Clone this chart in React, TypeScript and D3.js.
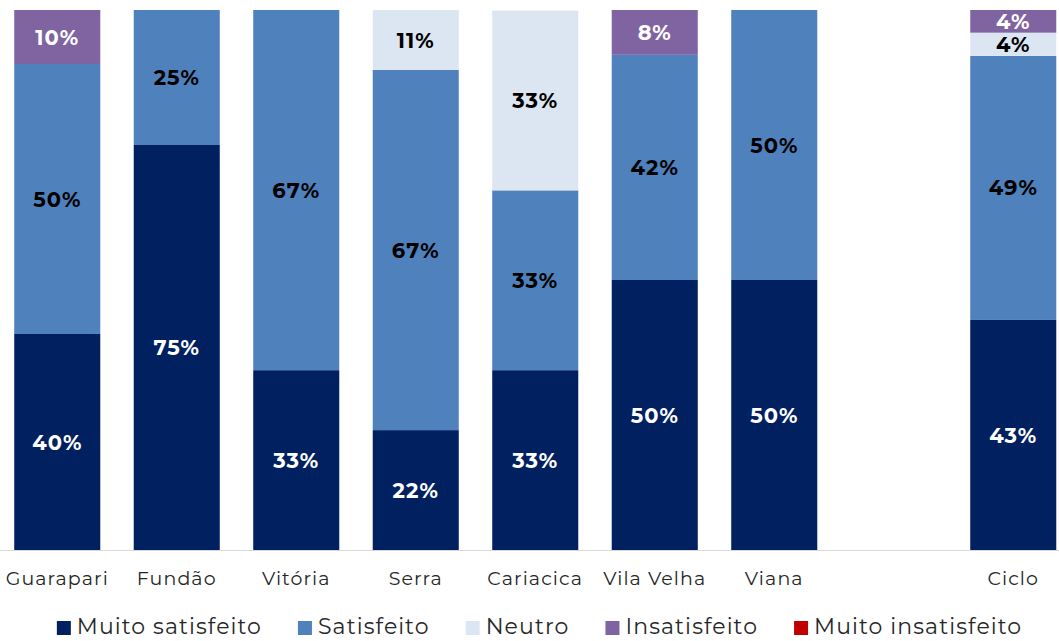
import React, { useEffect, useRef } from "react";
import * as d3 from "d3";

const categories = ["Guarapari", "Fundão", "Vitória", "Serra", "Cariacica", "Vila Velha", "Viana", "", "Ciclo"];
const seriesNames = ["Muito satisfeito", "Satisfeito", "Neutro", "Insatisfeito", "Muito insatisfeito"];
const muitoSatisfeito = [40, 75, 33.3, 22.2, 33.3, 50, 50, 0, 42.6];
const satisfeito = [50, 25, 66.7, 66.7, 33.3, 41.7, 50, 0, 48.9];
const neutro = [0, 0, 0, 11.1, 33.3, 0, 0, 0, 4.3];
const insatisfeito = [10, 0, 0, 0, 0, 8.3, 0, 0, 4.2];
const muitoInsatisfeito = [0, 0, 0, 0, 0, 0, 0, 0, 0];
const colors = ["#002060", "#4F81BD", "#DCE6F2", "#8064A2", "#C00000"];
const labelColors = ["#ffffff", "#000000", "#000000", "#ffffff", "#ffffff"];

const W = 1059;
const H = 641;
const FONT = "Montserrat, 'Open Sans', sans-serif";

export default function App() {
  const ref = useRef<SVGSVGElement>(null);
  useEffect(() => {
    const svg = d3.select(ref.current);
    svg.selectAll("*").remove();
    const series = [muitoSatisfeito, satisfeito, neutro, insatisfeito, muitoInsatisfeito];
    const rows = categories.map((c, i) => {
      const r: any = { cat: c, idx: i };
      seriesNames.forEach((s, j) => (r[s] = series[j][i]));
      return r;
    });
    const stack = d3.stack<any>().keys(seriesNames)(rows);
    const x = d3.scaleBand<number>().domain(categories.map((_, i) => i)).range([-2.5, 1073]).paddingInner(0.28).paddingOuter(0.14);
    const y = d3.scaleLinear().domain([0, 100]).range([550, 10]);

    const g = svg.append("g");
    stack.forEach((layer, j) => {
      layer.forEach((d) => {
        const v = d[1] - d[0];
        if (v <= 0) return;
        const xi = (d.data as any).idx;
        g.append("rect")
          .attr("x", x(xi)!)
          .attr("y", y(d[1]))
          .attr("width", x.bandwidth())
          .attr("height", y(d[0]) - y(d[1]))
          .attr("fill", colors[j]);
      });
    });
    svg.append("line").attr("x1", 0).attr("x2", W).attr("y1", 550.5).attr("y2", 550.5).attr("stroke", "#d9d9d9").attr("stroke-width", 1);
    stack.forEach((layer, j) => {
      layer.forEach((d) => {
        const v = d[1] - d[0];
        if (v <= 0) return;
        const xi = (d.data as any).idx;
        svg.append("text")
          .attr("x", x(xi)! + x.bandwidth() / 2)
          .attr("y", (y(d[0]) + y(d[1])) / 2)
          .attr("dy", "0.36em")
          .attr("text-anchor", "middle")
          .attr("font-family", FONT)
          .attr("font-weight", 700)
          .attr("font-size", 21)
          .attr("letter-spacing", 1)
          .attr("fill", labelColors[j])
          .text(Math.round(v) + "%");
      });
    });
    categories.forEach((c, i) => {
      svg.append("text")
        .attr("x", x(i)! + x.bandwidth() / 2)
        .attr("y", 585)
        .attr("text-anchor", "middle")
        .attr("font-family", FONT)
        .attr("font-size", 19)
        .attr("letter-spacing", 1.1)
        .attr("fill", "#262626")
        .text(c);
    });
    const lg = svg.append("g");
    let cx = 0;
    seriesNames.forEach((s, j) => {
      const it = lg.append("g").attr("transform", `translate(${cx},0)`);
      it.append("rect").attr("x", 0).attr("y", 621).attr("width", 14).attr("height", 14).attr("fill", colors[j]);
      const t = it.append("text").attr("x", 20).attr("y", 634).attr("font-family", FONT).attr("font-size", 22).attr("letter-spacing", 1.1).attr("fill", "#262626").text(s);
      const tw = (t.node() as SVGTextElement).getComputedTextLength();
      cx += 20 + tw + 36;
    });
    const total = cx - 36;
    lg.attr("transform", `translate(${(W - total) / 2 + 10},0)`);
  }, []);
  return (
    <svg ref={ref} width={W} height={H} style={{ position: "absolute", left: 0, top: 0, background: "#fff" }} />
  );
}
